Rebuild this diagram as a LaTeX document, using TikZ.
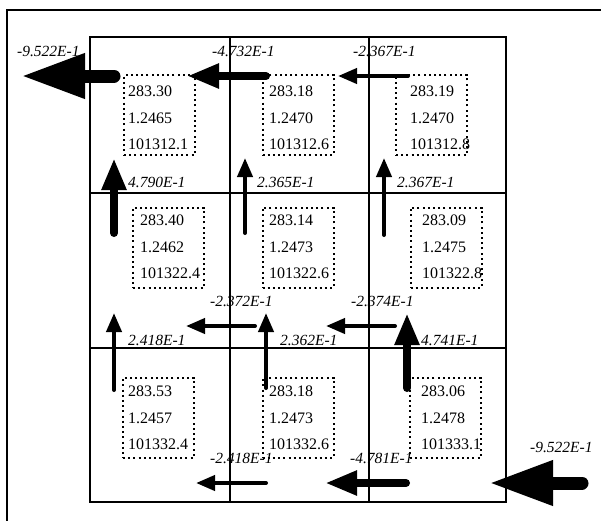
\documentclass[tikz,border=0pt]{standalone}
\usepackage{fontspec}
\setmainfont{Liberation Serif}
\usetikzlibrary{arrows.meta}

\begin{document}
\begin{tikzpicture}[x=1pt,y=-1pt,
  cellbox/.style={draw,line width=2pt,dash pattern=on 2pt off 3.2pt,minimum width=71pt,minimum height=80pt,inner sep=0pt},
  celltext/.style={align=left,anchor=west,inner sep=0pt,font=\fontsize{16}{26.5}\selectfont},
  flux/.style={anchor=base west,inner sep=0pt,font=\fontsize{15.5}{17}\selectfont\itshape},
  bigarrow/.style={line width=13pt,line cap=round,-{Triangle[length=64pt,width=42pt]}},
  midarrow/.style={line width=8pt,line cap=round,-{Triangle[length=32pt,width=23pt]}},
  smallarrow/.style={line width=4pt,line cap=round,-{Triangle[length=19pt,width=15pt]}}]
\useasboundingbox (0,0) rectangle (601,520);
\clip (0,0) rectangle (601,520);

% frame and grid
\draw[line width=2pt] (7,10) rectangle (620,540);
\draw[line width=1.2pt] (230,37) -- (230,502) (369,37) -- (369,502);
\draw[line width=1.2pt] (90,193) -- (506,193) (90,348) -- (506,348);
\draw[line width=2pt] (90,37) rectangle (506,502);

% cells
\node[cellbox] (c11) at (159.5,115) {};
\node[cellbox] (c12) at (298,115) {};
\node[cellbox] (c13) at (431.5,115) {};
\node[cellbox] (c21) at (168.5,247.5) {};
\node[cellbox] (c22) at (298,247.5) {};
\node[cellbox] (c23) at (446,247.5) {};
\node[cellbox] (c31) at (158.5,417.5) {};
\node[cellbox] (c32) at (298,417.5) {};
\node[cellbox] (c33) at (445.5,417.5) {};

\node[celltext] (t11) at (128,118.2) {283.30\\1.2465\\101312.1};
\node[celltext] (t12) at (269,118.2) {283.18\\1.2470\\101312.6};
\node[celltext] (t13) at (410,118.2) {283.19\\1.2470\\101312.8};
\node[celltext] (t21) at (140,247.2) {283.40\\1.2462\\101322.4};
\node[celltext] (t22) at (269,247.2) {283.14\\1.2473\\101322.6};
\node[celltext] (t23) at (422,247.2) {283.09\\1.2475\\101322.8};
\node[celltext] (t31) at (128,418.2) {283.53\\1.2457\\101332.4};
\node[celltext] (t32) at (269,418.2) {283.18\\1.2473\\101332.6};
\node[celltext] (t33) at (421,418.2) {283.06\\1.2478\\101333.1};

% fluxes
\draw[bigarrow] (114,76) -- (21,76);
\draw[midarrow] (266,76) -- (187,76);
\draw[smallarrow] (408,76) -- (338,76);
\draw[midarrow] (114,233) -- (114,158);
\draw[smallarrow] (245,233) -- (245,158);
\draw[smallarrow] (384,235) -- (384,158);
\draw[smallarrow] (255,326) -- (186,326);
\draw[smallarrow] (395,326) -- (326,326);
\draw[smallarrow] (114,390) -- (114,313);
\draw[smallarrow] (266,388) -- (266,313);
\draw[midarrow] (407,388) -- (407,313);
\draw[smallarrow] (266,483) -- (196,483);
\draw[midarrow] (406,483) -- (325,483);
\draw[bigarrow] (582,483) -- (489,483);

\node[flux] (f1) at (17,56) {-9.522E-1};
\node[flux] (f2) at (212,56) {-4.732E-1};
\node[flux] (f3) at (353,56) {-2.367E-1};
\node[flux] (f4) at (128,187) {4.790E-1};
\node[flux] (f5) at (257,187) {2.365E-1};
\node[flux] (f6) at (397,187) {2.367E-1};
\node[flux] (f7) at (210,306) {-2.372E-1};
\node[flux] (f8) at (351,306) {-2.374E-1};
\node[flux] (f9) at (128,345) {2.418E-1};
\node[flux] (f10) at (280,345) {2.362E-1};
\node[flux] (f11) at (421,345) {4.741E-1};
\node[flux] (f12) at (210,463) {-2.418E-1};
\node[flux] (f13) at (350,463) {-4.781E-1};
\node[flux] (f14) at (530,452) {-9.522E-1};
\end{tikzpicture}
\end{document}
